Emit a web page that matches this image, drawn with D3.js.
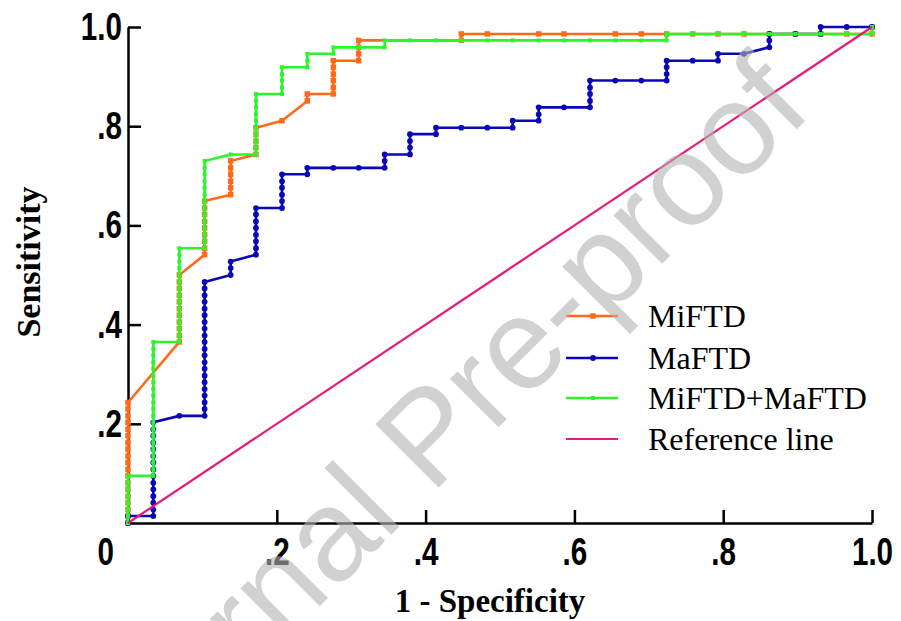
<!DOCTYPE html>
<html>
<head>
<meta charset="utf-8">
<script src="https://cdn.jsdelivr.net/npm/d3@7"></script>
<style>
body { margin: 0; background: #fff; }
</style>
</head>
<body>
<script>
// ROC points: [1 - specificity, sensitivity]
var miftd = [
    [0,0],[0,.014],[0,.027],[0,.041],[0,.054],[0,.068],[0,.081],[0,.095],[0,.108],[0,.122],
    [0,.135],[0,.149],[0,.162],[0,.176],[0,.189],[0,.203],[0,.216],[0,.23],[0,.243],
    [.069,.365],[.069,.378],[.069,.392],[.069,.405],[.069,.419],[.069,.432],[.069,.446],
    [.069,.459],[.069,.473],[.069,.486],[.069,.5],
    [.103,.541],[.103,.554],[.103,.568],[.103,.581],[.103,.595],[.103,.608],[.103,.622],
    [.103,.635],[.103,.649],
    [.138,.662],[.138,.676],[.138,.689],[.138,.703],[.138,.716],[.138,.73],
    [.172,.743],[.172,.757],[.172,.77],[.172,.784],[.172,.797],
    [.207,.811],
    [.241,.851],[.241,.865],
    [.276,.865],[.276,.878],[.276,.892],[.276,.905],[.276,.919],[.276,.932],
    [.31,.932],[.31,.946],[.31,.959],[.31,.973],
    [.448,.973],[.448,.986],[.483,.986],[.552,.986],[.586,.986],[.655,.986],[.69,.986],
    [.724,.986],[.759,.986],[.793,.986],[.828,.986],[.862,.986],[.897,.986],[.931,.986],
    [.966,.986],[1,.986],[1,1]
];

var maftd = [
    [0,0],[0,.014],[.034,.014],
    [.034,.027],[.034,.041],[.034,.054],[.034,.068],[.034,.081],[.034,.095],[.034,.108],
    [.034,.122],[.034,.135],[.034,.149],[.034,.162],[.034,.176],[.034,.189],[.034,.203],
    [.069,.216],[.103,.216],
    [.103,.23],[.103,.243],[.103,.257],[.103,.27],[.103,.284],[.103,.297],[.103,.311],
    [.103,.324],[.103,.338],[.103,.351],[.103,.365],[.103,.378],[.103,.392],[.103,.405],
    [.103,.419],[.103,.432],[.103,.446],[.103,.459],[.103,.473],[.103,.486],
    [.138,.5],[.138,.514],[.138,.527],
    [.172,.541],[.172,.554],[.172,.568],[.172,.581],[.172,.595],[.172,.608],[.172,.622],
    [.172,.635],
    [.207,.635],[.207,.649],[.207,.662],[.207,.676],[.207,.689],[.207,.703],
    [.241,.703],[.241,.716],
    [.276,.716],[.31,.716],[.345,.716],[.345,.73],[.345,.743],
    [.379,.743],[.379,.757],[.379,.77],[.379,.784],
    [.414,.784],[.414,.797],
    [.448,.797],[.483,.797],[.517,.797],[.517,.811],
    [.552,.811],[.552,.824],[.552,.838],
    [.586,.838],[.621,.838],[.621,.851],[.621,.865],[.621,.878],[.621,.892],
    [.655,.892],[.69,.892],[.724,.892],[.724,.905],[.724,.919],[.724,.932],
    [.759,.932],[.793,.932],[.793,.946],
    [.828,.946],[.862,.959],[.862,.973],[.862,.986],
    [.897,.986],[.931,.986],[.931,1],[.966,1],[1,1]
];

var combined = [
    [0,0],[0,.014],[0,.027],[0,.041],[0,.054],[0,.068],[0,.081],[0,.095],
    [.034,.095],[.034,.108],[.034,.122],[.034,.135],[.034,.149],[.034,.162],[.034,.176],
    [.034,.189],[.034,.203],[.034,.216],[.034,.23],[.034,.243],[.034,.257],[.034,.27],
    [.034,.284],[.034,.297],[.034,.311],[.034,.324],[.034,.338],[.034,.351],[.034,.365],
    [.069,.365],[.069,.378],[.069,.392],[.069,.405],[.069,.419],[.069,.432],[.069,.446],
    [.069,.459],[.069,.473],[.069,.486],[.069,.5],[.069,.514],[.069,.527],[.069,.541],
    [.069,.554],
    [.103,.554],[.103,.568],[.103,.581],[.103,.595],[.103,.608],[.103,.622],[.103,.635],
    [.103,.649],[.103,.662],[.103,.676],[.103,.689],[.103,.703],[.103,.716],[.103,.73],
    [.138,.743],[.172,.743],
    [.172,.757],[.172,.77],[.172,.784],[.172,.797],[.172,.811],[.172,.824],[.172,.838],
    [.172,.851],[.172,.865],
    [.207,.865],[.207,.878],[.207,.892],[.207,.905],[.207,.919],
    [.241,.919],[.241,.932],[.241,.946],
    [.276,.946],[.276,.959],
    [.31,.959],[.345,.959],[.345,.973],
    [.379,.973],[.414,.973],[.448,.973],[.483,.973],[.517,.973],[.552,.973],[.586,.973],
    [.621,.973],[.655,.973],[.69,.973],[.724,.973],[.724,.986],
    [.759,.986],[.793,.986],[.828,.986],[.862,.986],[.897,.986],[.931,.986],[.966,.986],
    [1,.986],[1,1]
];

var refLine = [[0,0],[1,1]];

var xTicks = [0, .2, .4, .6, .8, 1];
var xTickLabels = ["0", ".2", ".4", ".6", ".8", "1.0"];
var yTicks = [.2, .4, .6, .8, 1];
var yTickLabels = [".2", ".4", ".6", ".8", "1.0"];
var seriesNames = ["MiFTD", "MaFTD", "MiFTD+MaFTD", "Reference line"];

var W = 901, H = 621;

var svg = d3.select('body').append('svg')
    .attr('width', W)
    .attr('height', H);

var x = d3.scaleLinear().domain([0, 1]).range([128, 872]);
var y = d3.scaleLinear().domain([0, 1]).range([523, 27]);

var series = [
    {data: miftd, color: '#ff6a1a', symbol: d3.symbolSquare, size: 30},
    {data: maftd, color: '#0808b4', symbol: d3.symbolCircle, size: 26},
    {data: combined, color: '#2cf52c', symbol: d3.symbolSquare, size: 16},
    {data: refLine, color: '#e8187c', symbol: null, size: 0}
];

// axes
var xAxis = d3.axisBottom(x)
    .tickValues(xTicks)
    .tickSize(-13)
    .tickSizeOuter(0)
    .tickPadding(14)
    .tickFormat((d, i) => xTickLabels[i]);

var yAxis = d3.axisLeft(y)
    .tickValues(yTicks)
    .tickSize(-13)
    .tickSizeOuter(0)
    .tickPadding(8)
    .tickFormat((d, i) => yTickLabels[i]);

var gx = svg.append('g')
    .attr('transform', 'translate(0,' + y(0) + ')')
    .call(xAxis);

var gy = svg.append('g')
    .attr('transform', 'translate(' + x(0) + ',0)')
    .call(yAxis);

[gx, gy].forEach(g => {
    g.select('.domain').attr('stroke', '#000').attr('stroke-width', 2.5);
    g.selectAll('.tick line').attr('stroke', '#000').attr('stroke-width', 2.5);
    g.selectAll('.tick text')
        .attr('fill', '#000')
        .style('font-family', '"Liberation Sans", Arial, sans-serif')
        .style('font-weight', 'bold')
        .style('font-size', '39px')
        .attr('transform', 'scale(0.76,1)');
});
// the "0" label sits left of the corner
gx.selectAll('.tick').filter(d => d === 0).select('text').attr('x', -30);

// curves
var line = d3.line()
    .x(d => x(d[0]))
    .y(d => y(d[1]));

series.forEach(s => {
    svg.append('path')
        .datum(s.data)
        .attr('d', line)
        .attr('fill', 'none')
        .attr('stroke', s.color)
        .attr('stroke-width', s.symbol ? 2.6 : 2.2)
        .attr('stroke-linejoin', 'round');
    if (s.symbol) {
        svg.append('g').selectAll('path')
            .data(s.data)
            .enter()
            .append('path')
            .attr('transform', d => 'translate(' + x(d[0]) + ',' + y(d[1]) + ')')
            .attr('d', d3.symbol().type(s.symbol).size(s.size))
            .attr('fill', s.color);
    }
});

// legend
var legendY = [316, 358, 398, 439];
var legend = svg.append('g');
series.forEach((s, i) => {
    legend.append('line')
        .attr('x1', 566).attr('x2', 618)
        .attr('y1', legendY[i]).attr('y2', legendY[i])
        .attr('stroke', s.color)
        .attr('stroke-width', s.symbol ? 2.6 : 2.2);
    if (s.symbol) {
        legend.append('path')
            .attr('transform', 'translate(593,' + legendY[i] + ')')
            .attr('d', d3.symbol().type(s.symbol).size(s.size))
            .attr('fill', s.color);
    }
    legend.append('text')
        .attr('x', 648)
        .attr('y', legendY[i])
        .attr('dy', '0.34em')
        .style('font-family', '"Liberation Serif", "Times New Roman", serif')
        .style('font-size', '32px')
        .attr('fill', '#000')
        .text(seriesNames[i]);
});

// axis titles
svg.append('text')
    .attr('x', 490)
    .attr('y', 612)
    .attr('text-anchor', 'middle')
    .style('font-family', '"Liberation Serif", "Times New Roman", serif')
    .style('font-weight', 'bold')
    .style('font-size', '33px')
    .text('1 - Specificity');

svg.append('text')
    .attr('transform', 'translate(40,262) rotate(-90)')
    .attr('text-anchor', 'middle')
    .style('font-family', '"Liberation Serif", "Times New Roman", serif')
    .style('font-weight', 'bold')
    .style('font-size', '34px')
    .text('Sensitivity');

// watermark
svg.append('text')
    .attr('transform', 'translate(104,822) rotate(-45)')
    .style('font-family', '"Liberation Sans", Arial, sans-serif')
    .style('font-size', '130px')
    .attr('fill', '#b4b4b4')
    .attr('opacity', 0.6)
    .text('Journal Pre-proof');
</script>
</body>
</html>
